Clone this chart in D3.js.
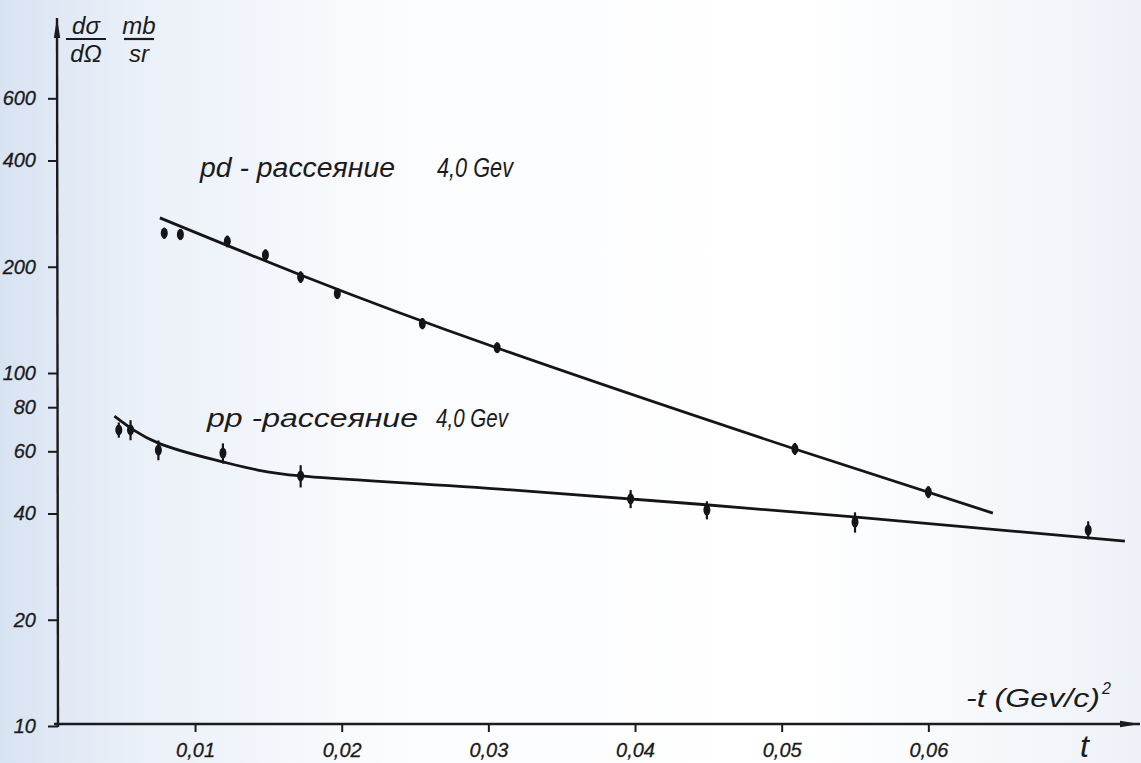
<!DOCTYPE html>
<html>
<head>
<meta charset="utf-8">
<script src="https://cdn.jsdelivr.net/npm/d3@7"></script>
<style>
  body { margin: 0; background: #fff; }
  text { font-family: "Liberation Sans", "DejaVu Sans", sans-serif; font-style: italic; fill: #1b1b1d; }
</style>
</head>
<body>
<div class="chart"></div>
<script>
// Data: -t in (GeV/c)^2, dσ/dΩ in mb/sr
var pdT   = [0.0079, 0.0090, 0.0122, 0.0148, 0.0172, 0.0197, 0.0255, 0.0306, 0.0509, 0.0600];
var pdVal = [249, 247, 236, 216, 187, 168, 138, 118, 61, 46];
var pdErr = [9, 9, 9, 8, 7, 6, 5, 4, 2.4, 1.8];

var ppT   = [0.0048, 0.0056, 0.0075, 0.0119, 0.0172, 0.0397, 0.0449, 0.0550, 0.0709];
var ppVal = [69, 69, 60.5, 59.3, 51.1, 44.0, 40.9, 37.8, 35.9];
var ppErr = [3.4, 4.5, 3.9, 3.9, 3.7, 2.6, 2.4, 2.5, 2.1];

// hand-drawn fit curves
var pdFitT = [0.0076, 0.0172, 0.0306, 0.0509, 0.0644];
var pdFitV = [275, 189.5, 117.7, 60.9, 40.1];
var ppFitT = [0.0045, 0.0075, 0.0119, 0.0172, 0.0308, 0.0549, 0.0734];
var ppFitV = [75.5, 63.3, 56.0, 51.1, 46.9, 39.1, 33.4];

var yTicks = [10, 20, 40, 60, 80, 100, 200, 400, 600];
var xTicks = [0.01, 0.02, 0.03, 0.04, 0.05, 0.06];

var svgWidth = 1141;
var svgHeight = 763;
var axisX = 58, axisY = 724;

var svg = d3.select(".chart")
  .append("svg")
  .attr("width", svgWidth)
  .attr("height", svgHeight);

// paper tint
var grad = svg.append("defs").append("linearGradient").attr("id", "paper");
[["0%", "#d8e3f2"], ["12%", "#eaf0f8"], ["35%", "#fbfcfe"], ["70%", "#ffffff"], ["100%", "#eef2f8"]]
  .forEach(s => grad.append("stop").attr("offset", s[0]).attr("stop-color", s[1]));
svg.append("rect").attr("width", svgWidth).attr("height", svgHeight).attr("fill", "url(#paper)");

var defs = svg.select("defs");
defs.append("marker")
  .attr("id", "arrow")
  .attr("markerUnits", "userSpaceOnUse")
  .attr("viewBox", "0 -4 20 8")
  .attr("refX", 20).attr("refY", 0)
  .attr("markerWidth", 20).attr("markerHeight", 8)
  .attr("orient", "auto")
  .append("path")
  .attr("d", "M0,-3.2L20,0L0,3.2Z")
  .attr("fill", "#1b1b1d");

var x = d3.scaleLinear().domain([0, 0.0745]).range([48.4, 1141]);
var y = d3.scaleLog().domain([10, 1000]).range([726, 20]);

var comma = d3.formatLocale({ decimal: ",", thousands: " ", grouping: [3], currency: ["", ""] });

// Axes
var bottomAxis = d3.axisBottom(x).tickValues(xTicks).tickSize(8).tickPadding(11)
  .tickFormat(comma.format(".2f"));
var leftAxis = d3.axisLeft(y).tickValues(yTicks).tickSize(10).tickPadding(12)
  .tickFormat(d3.format("d"));

var gx = svg.append("g").attr("transform", `translate(0, ${axisY})`).call(bottomAxis);
var gy = svg.append("g").attr("transform", `translate(${axisX}, 0)`).call(leftAxis);
[gx, gy].forEach(g => {
  g.select(".domain").remove();
  g.selectAll("line").attr("stroke", "#1b1b1d").attr("stroke-width", 2);
  g.selectAll("text").attr("font-size", 20).attr("font-family", null).attr("fill", "#1b1b1d")
    .attr("stroke", "#1b1b1d").attr("stroke-width", 0.3);
});

svg.append("line")
  .attr("x1", axisX - 4).attr("y1", axisY).attr("x2", 1140).attr("y2", axisY)
  .attr("stroke", "#1b1b1d").attr("stroke-width", 2.4).attr("marker-end", "url(#arrow)");
svg.append("line")
  .attr("x1", axisX).attr("y1", y(10) + 1).attr("x2", axisX - 1).attr("y2", y(1000) - 2)
  .attr("stroke", "#1b1b1d").attr("stroke-width", 2.4).attr("marker-end", "url(#arrow)");

// Fit curves
var line = d3.line().x(d => x(d[0])).y(d => y(d[1])).curve(d3.curveNatural);
svg.append("path").datum(d3.zip(pdFitT, pdFitV))
  .attr("d", line).attr("fill", "none").attr("stroke", "#151517").attr("stroke-width", 2.8);
svg.append("path").datum(d3.zip(ppFitT, ppFitV))
  .attr("d", line).attr("fill", "none").attr("stroke", "#151517").attr("stroke-width", 2.8);

// Data points with error bars
function drawPoints(ts, vals, errs) {
  var pts = d3.zip(ts, vals, errs);
  var g = svg.append("g");
  g.selectAll("line").data(pts).enter().append("line")
    .attr("x1", d => x(d[0])).attr("x2", d => x(d[0]))
    .attr("y1", d => y(d[1] - d[2])).attr("y2", d => y(d[1] + d[2]))
    .attr("stroke", "#151517").attr("stroke-width", 2.2);
  g.selectAll("ellipse").data(pts).enter().append("ellipse")
    .attr("cx", d => x(d[0])).attr("cy", d => y(d[1]))
    .attr("rx", 3.5).attr("ry", 5.5)
    .attr("fill", "#151517");
}
drawPoints(pdT, pdVal, pdErr);
drawPoints(ppT, ppVal, ppErr);

// Series labels
svg.append("text").attr("x", 200).attr("y", 177).attr("font-size", 27)
  .attr("textLength", 195).attr("lengthAdjust", "spacingAndGlyphs").text("pd - рассеяние");
svg.append("text").attr("x", 437).attr("y", 177).attr("font-size", 27)
  .attr("textLength", 76).attr("lengthAdjust", "spacingAndGlyphs").text("4,0 Gev");
svg.append("text").attr("x", 207).attr("y", 427).attr("font-size", 25)
  .attr("textLength", 211).attr("lengthAdjust", "spacingAndGlyphs").text("pp -рассеяние");
svg.append("text").attr("x", 436).attr("y", 427).attr("font-size", 25)
  .attr("textLength", 72).attr("lengthAdjust", "spacingAndGlyphs").text("4,0 Gev");

// Axis titles
svg.append("text").attr("x", 966).attr("y", 707).attr("font-size", 25)
  .attr("textLength", 134).attr("lengthAdjust", "spacingAndGlyphs").text("-t  (Gev/c)");
svg.append("text").attr("x", 1102).attr("y", 694).attr("font-size", 16).text("2");
svg.append("text").attr("x", 1080).attr("y", 757).attr("font-size", 32).text("t");

function frac(xc, top, bottom, w) {
  svg.append("text").attr("x", xc).attr("y", 34).attr("font-size", 24)
    .attr("text-anchor", "middle").text(top);
  svg.append("line").attr("x1", xc - w / 2).attr("x2", xc + w / 2).attr("y1", 39).attr("y2", 39)
    .attr("stroke", "#1b1b1d").attr("stroke-width", 2.2);
  svg.append("text").attr("x", xc).attr("y", 62).attr("font-size", 24)
    .attr("text-anchor", "middle").text(bottom);
}
frac(86, "dσ", "dΩ", 40);
frac(139, "mb", "sr", 30);
</script>
</body>
</html>
